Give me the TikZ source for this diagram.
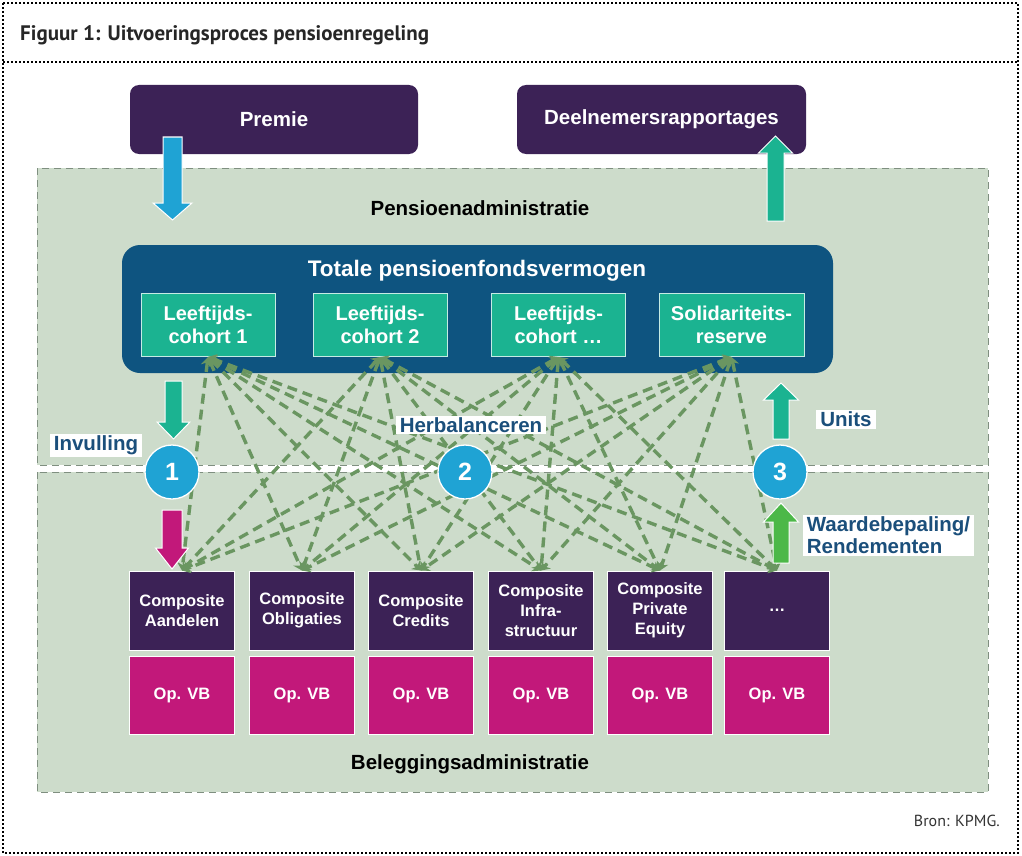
\documentclass[tikz,border=0pt]{standalone}
\usepackage{fontspec}
\setmainfont{Liberation Sans}
\newfontfamily\titlefont{PT Sans}
\usetikzlibrary{arrows.meta,calc}
\definecolor{dpurple}{HTML}{3C2256}
\definecolor{magent}{HTML}{C2187A}
\definecolor{tealc}{HTML}{1BB391}
\definecolor{dblue}{HTML}{0E5480}
\definecolor{cyanc}{HTML}{1FA3D4}
\definecolor{panel}{HTML}{CDDCCB}
\definecolor{pborder}{HTML}{7F8F80}
\definecolor{lgreen}{HTML}{6A9661}
\definecolor{lblue}{HTML}{1B4F7B}
\definecolor{agreen}{HTML}{4CB848}
\newcommand\fsz[2]{\fontsize{#1}{#2}\selectfont}
% block arrow: x, ytail, ybase, ytip, shaft half, head half, colour
\newcommand\barrow[7]{%
  \fill[#7,draw=white,line width=1pt] (#1-#5,#2) -- (#1-#5,#3) -- (#1-#6,#3) -- (#1,#4)
     -- (#1+#6,#3) -- (#1+#5,#3) -- (#1+#5,#2) -- cycle;}
\tikzset{
  topbox/.style={fill=dpurple, rounded corners=9pt, minimum width=288pt, minimum height=69pt,
     text=white, font=\bfseries\fsz{20.5}{24}, inner sep=0pt},
  panelbox/.style={fill=panel, draw=pborder, line width=1pt, dash pattern=on 7pt off 5pt},
  totbox/.style={fill=dblue, rounded corners=18pt, minimum width=711pt, minimum height=128pt, inner sep=0pt},
  cohort/.style={fill=tealc, draw=white!75!tealc, line width=1pt, minimum width=134pt, minimum height=63pt,
     text=white, align=center, font=\bfseries\fsz{20}{23}, inner sep=0pt},
  comp/.style={fill=dpurple, draw=white, line width=1pt, minimum width=105pt, minimum height=79pt,
     text=white, align=center, font=\bfseries\fsz{16.5}{20}, inner sep=0pt},
  opvb/.style={fill=magent, draw=white, line width=1pt, minimum width=105pt, minimum height=78pt,
     text=white, font=\bfseries\fsz{16.5}{20}, inner sep=0pt},
  circ/.style={circle, fill=cyanc, draw=white, line width=1.3pt, minimum size=54pt, inner sep=0pt,
     text=white, font=\bfseries\fsz{25}{25}},
  lab/.style={fill=white, text=lblue, font=\bfseries\fsz{20.5}{22}, inner xsep=4pt, inner ysep=1.5pt},
  blab/.style={text=black, font=\bfseries\fsz{20.5}{24}, inner sep=0pt},
  conn/.style={draw=lgreen, line width=3.4pt, dash pattern=on 10pt off 6pt,
     {Stealth[length=8pt,width=12pt]}-{Stealth[length=8pt,width=12pt]}},
  frame/.style={line width=2.5pt, dash pattern=on 1.8pt off 2.2pt, black}
}
\begin{document}
\begin{tikzpicture}[x=1pt,y=-1pt]
\useasboundingbox (0,0) rectangle (1022,856);
\fill[white] (0,0) rectangle (1022,856);
% frame
\draw[frame] (3,3) rectangle (1018,853);
\draw[frame] (3,62) -- (1018,62);
\node[anchor=west, inner sep=0pt, font=\titlefont\bfseries\fsz{21}{24}, text=black!85] (title) at (20,35)
  {Figuur 1: Uitvoeringsproces pensioenregeling};
\node[anchor=east, inner sep=0pt, font=\titlefont\fsz{16}{18}, text=black!80] (bron) at (1000,821) {Bron: KPMG.};
% panels
\draw[panelbox] (37,168) rectangle (988,465);
\draw[panelbox] (37,472) rectangle (988,792);
\node[blab] (padm) at (480,208) {Pensioenadministratie};
\node[blab] (badm) at (470,764) {Beleggingsadministratie};
% top boxes
\node[topbox] (premie) at (274,119.5) {Premie};
\node[topbox, minimum width=289pt] (deel) at (661.5,119.5) {Deelnemersrapportages};
% totale
\node[totbox] (tot) at (477.5,309) {};
\node[inner sep=0pt, text=white, font=\bfseries\fsz{22.5}{26}] (tottitle) at (477,271) {Totale pensioenfondsvermogen};
\node[cohort] (c1) at (208,325) {Leeftijds-\\cohort 1};
\node[cohort] (c2) at (380,325) {Leeftijds-\\cohort 2};
\node[cohort] (c3) at (558.5,325) {Leeftijds-\\cohort \dots};
\node[cohort, minimum width=145pt] (c4) at (731.5,325) {Solidariteits-\\reserve};
% composites
\node[comp] (k1) at (182,610.5) {Composite\\Aandelen};
\node[comp] (k2) at (302,610.5) {Composite\\Obligaties};
\node[comp] (k3) at (421,610.5) {Composite\\Credits};
\node[comp] (k4) at (541,610.5) {Composite\\Infra-\\structuur};
\node[comp] (k5) at (660,610.5) {Composite\\Private\\Equity};
\node[comp] (k6) at (777,610.5) {\dots};
\foreach \i/\x in {1/182,2/302,3/421,4/541,5/660,6/777}
  \node[opvb] (o\i) at (\x,695) {Op. VB};
% connectors
\foreach \i in {1,...,4}
  \foreach \j in {1,...,6}
    \draw[conn] (c\i.south) -- (k\j.north);
% circles and labels
\node[circ] (n1) at (172,472) {1};
\node[circ] (n2) at (465,472) {2};
\node[circ] (n3) at (780,472) {3};
\node[lab] (invul) at (96,445.5) {Invulling};
\node[lab] (herb) at (471,425) {Herbalanceren};
\node[lab] (units) at (846,419.5) {Units};
\node[lab, align=left, font=\bfseries\fsz{20.5}{22}] (waarde) at (888.5,535.5) {Waardebepaling/\\Rendementen};
% block arrows
\barrow{172.5}{137}{203}{220}{9.5}{19.5}{cyanc}
\barrow{775.5}{221}{153}{136}{8.5}{17}{tealc}
\barrow{173.5}{381}{422}{439}{8.5}{16.5}{tealc}
\barrow{172}{510}{548}{569}{10}{16.5}{magent}
\barrow{781}{439}{400}{383}{8}{17.5}{tealc}
\barrow{781}{563}{522}{503}{8}{17.5}{agreen}
\end{tikzpicture}
\end{document}
